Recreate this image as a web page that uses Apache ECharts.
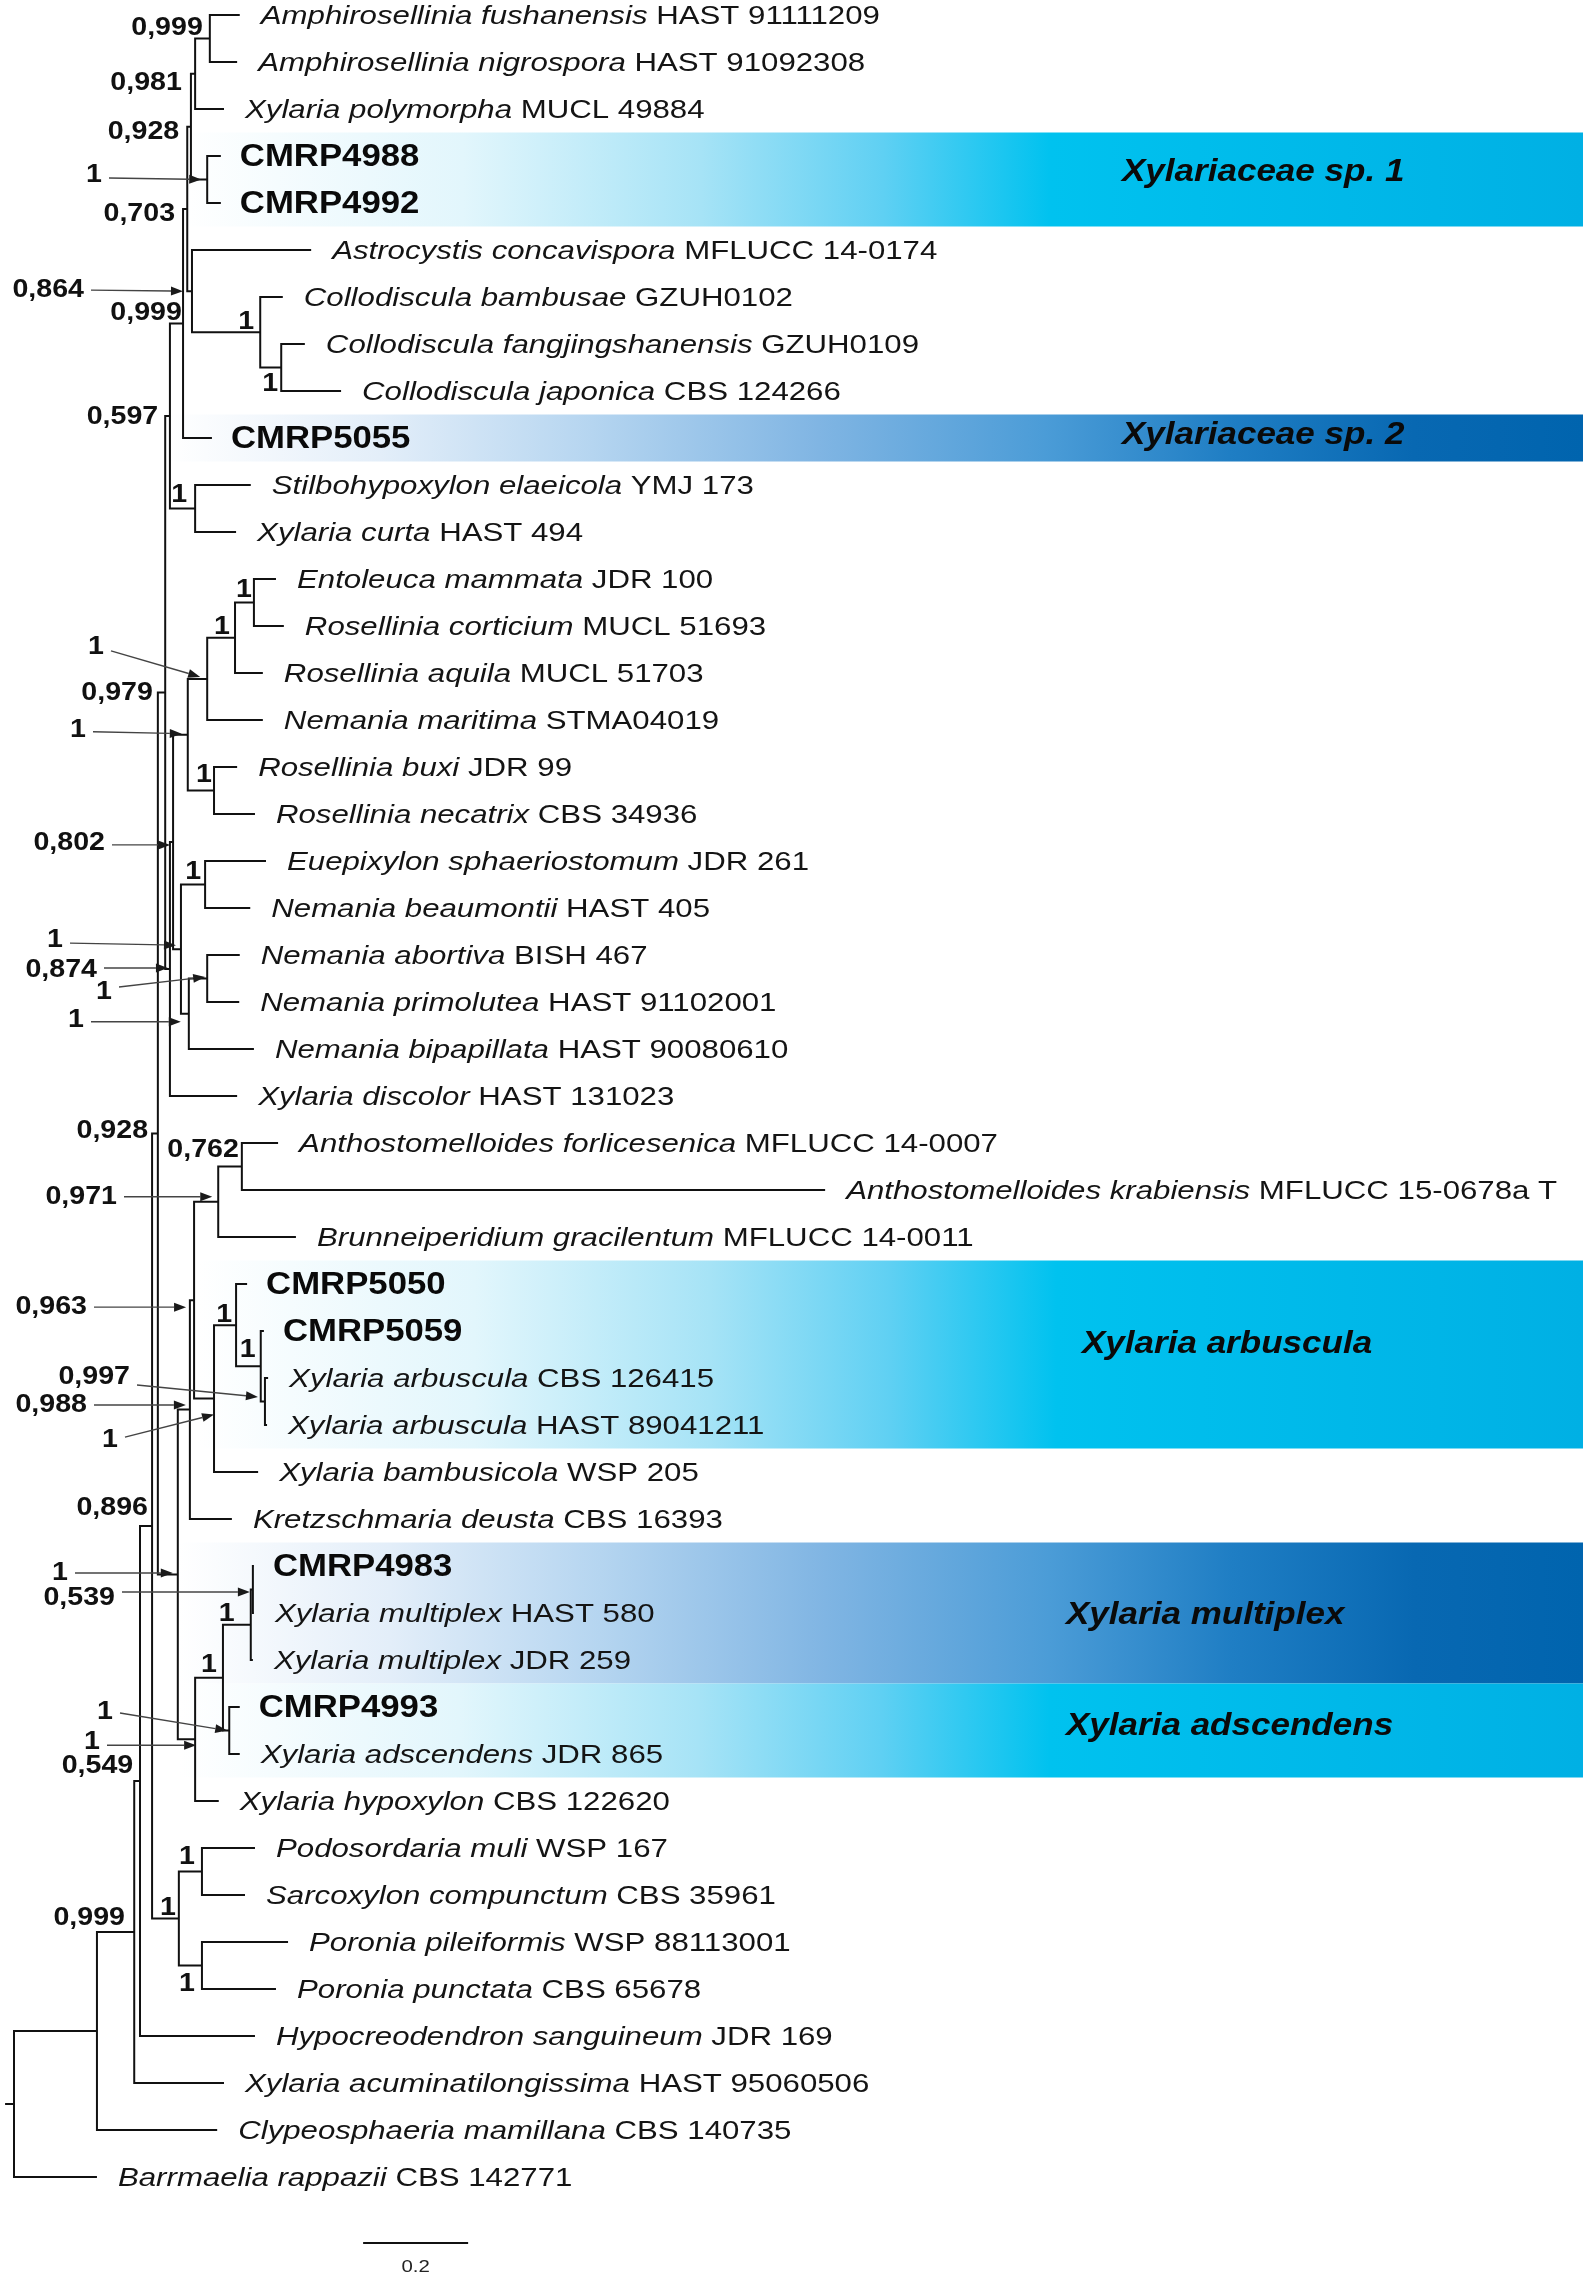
<!DOCTYPE html>
<html>
<head>
<meta charset="utf-8">
<title>Xylariaceae phylogeny</title>
<script src="https://cdn.jsdelivr.net/npm/echarts@6/dist/echarts.min.js"></script>
<style>
  html, body { margin: 0; padding: 0; background: #fff; }
  #chart { width: 1595px; height: 2281px; }
</style>
</head>
<body>
<div id="chart"></div>
<script>
// taxa, top to bottom (italic name part, strain part); empty name = our isolate, bold
const taxaName = [
  'Amphirosellinia fushanensis', 'Amphirosellinia nigrospora', 'Xylaria polymorpha', '', '',
  'Astrocystis concavispora', 'Collodiscula bambusae', 'Collodiscula fangjingshanensis', 'Collodiscula japonica', '',
  'Stilbohypoxylon elaeicola', 'Xylaria curta', 'Entoleuca mammata', 'Rosellinia corticium', 'Rosellinia aquila',
  'Nemania maritima', 'Rosellinia buxi', 'Rosellinia necatrix', 'Euepixylon sphaeriostomum', 'Nemania beaumontii',
  'Nemania abortiva', 'Nemania primolutea', 'Nemania bipapillata', 'Xylaria discolor', 'Anthostomelloides forlicesenica',
  'Anthostomelloides krabiensis', 'Brunneiperidium gracilentum', '', '', 'Xylaria arbuscula',
  'Xylaria arbuscula', 'Xylaria bambusicola', 'Kretzschmaria deusta', '', 'Xylaria multiplex',
  'Xylaria multiplex', '', 'Xylaria adscendens', 'Xylaria hypoxylon', 'Podosordaria muli',
  'Sarcoxylon compunctum', 'Poronia pileiformis', 'Poronia punctata', 'Hypocreodendron sanguineum', 'Xylaria acuminatilongissima',
  'Clypeosphaeria mamillana', 'Barrmaelia rappazii'
];
const taxaStrain = [
  'HAST 91111209', 'HAST 91092308', 'MUCL 49884', 'CMRP4988', 'CMRP4992',
  'MFLUCC 14-0174', 'GZUH0102', 'GZUH0109', 'CBS 124266', 'CMRP5055',
  'YMJ 173', 'HAST 494', 'JDR 100', 'MUCL 51693', 'MUCL 51703',
  'STMA04019', 'JDR 99', 'CBS 34936', 'JDR 261', 'HAST 405',
  'BISH 467', 'HAST 91102001', 'HAST 90080610', 'HAST 131023', 'MFLUCC 14-0007',
  'MFLUCC 15-0678a T', 'MFLUCC 14-0011', 'CMRP5050', 'CMRP5059', 'CBS 126415',
  'HAST 89041211', 'WSP 205', 'CBS 16393', 'CMRP4983', 'HAST 580',
  'JDR 259', 'CMRP4993', 'JDR 865', 'CBS 122620', 'WSP 167',
  'CBS 35961', 'WSP 88113001', 'CBS 65678', 'JDR 169', 'HAST 95060506',
  'CBS 140735', 'CBS 142771'
];
// distance from root of each tip (substitutions/site)
const tipDepth = [
  0.430, 0.425, 0.400, 0.394, 0.394,
  0.566, 0.512, 0.554, 0.623, 0.377,
  0.451, 0.423, 0.499, 0.514, 0.474,
  0.474, 0.425, 0.459, 0.480, 0.450,
  0.430, 0.429, 0.457, 0.425, 0.503,
  1.545, 0.537, 0.444, 0.476, 0.484,
  0.482, 0.465, 0.415, 0.457, 0.457,
  0.455, 0.430, 0.430, 0.390, 0.459,
  0.440, 0.522, 0.499, 0.459, 0.400,
  0.387, 0.158
];
// internal nodes, children first ('L' = tip, 'N' = internal node)
const nodeKids = [
  ['L0', 'L1'], ['N0', 'L2'], ['L3', 'L4'], ['N1', 'N2'], ['L7', 'L8'],
  ['L6', 'N4'], ['L5', 'N5'], ['N3', 'N6'], ['N7', 'L9'], ['L10', 'L11'],
  ['N8', 'N9'], ['L12', 'L13'], ['N11', 'L14'], ['N12', 'L15'], ['L16', 'L17'],
  ['N13', 'N14'], ['L18', 'L19'], ['L20', 'L21'], ['N17', 'L22'], ['N16', 'N18'],
  ['N15', 'N19'], ['N20', 'L23'], ['N10', 'N21'], ['L24', 'L25'], ['N23', 'L26'],
  ['L29', 'L30'], ['L28', 'N25'], ['L27', 'N26'], ['N27', 'L31'], ['N24', 'N28'],
  ['N29', 'L32'], ['L33', 'L34'], ['N31', 'L35'], ['L36', 'L37'], ['N32', 'N33'],
  ['N34', 'L38'], ['N30', 'N35'], ['N22', 'N36'], ['L39', 'L40'], ['L41', 'L42'],
  ['N38', 'N39'], ['N37', 'N40'], ['N41', 'L43'], ['N42', 'L44'], ['N43', 'L45'],
  ['N44', 'L46']
];
const nodeDepth = [
  0.373, 0.345, 0.368, 0.337, 0.509,
  0.469, 0.339, 0.330, 0.322, 0.345,
  0.297, 0.457, 0.421, 0.368, 0.381,
  0.331, 0.364, 0.368, 0.333, 0.318,
  0.303, 0.297, 0.288, 0.434, 0.389,
  0.478, 0.470, 0.423, 0.381, 0.343,
  0.335, 0.455, 0.451, 0.410, 0.398,
  0.345, 0.312, 0.274, 0.358, 0.358,
  0.314, 0.263, 0.240, 0.229, 0.158,
  0
];
// posterior probabilities
const nodeSupport = [
  '0,999', '', '1', '0,981', '1',
  '1', '0,864', '0,928', '0,703', '1',
  '0,999', '1', '1', '1', '1',
  '1', '1', '1', '1', '1',
  '0,802', '0,874', '0,597', '0,762', '0,971',
  '0,997', '1', '1', '1', '0,963',
  '0,988', '0,539', '1', '1', '1',
  '1', '1', '0,979', '1', '1',
  '1', '0,928', '0,896', '0,549', '0,999',
  ''
];
// highlighted clades: label, first tip, last tip, palette
const clades = [
  ['Xylariaceae sp. 1', 3, 4, 'cyan'],
  ['Xylariaceae sp. 2', 9, 9, 'blue'],
  ['Xylaria arbuscula', 27, 30, 'cyan'],
  ['Xylaria multiplex', 33, 35, 'blue'],
  ['Xylaria adscendens', 36, 37, 'cyan']
];
const scaleBarLength = 0.2;
const rootStem = 0.017;

// ---- layout (pixels) ----
const FONT = '"Liberation Sans", Arial, Helvetica, sans-serif';
const INK = '#111';
const bandLeft = [183, 168, 197, 179, 179];
const bandRight = 1583;
const cladeLabelX = [1122, 1122, 1082, 1066, 1066];
const cladeLabelDy = [-7, -3, -10, 2, -4];
const palettes = {
  cyan: [[0, '#ffffff'], [0.2, '#e2f6fc'], [0.37, '#a6e3f6'], [0.5, '#5fd0f3'], [0.62, '#00c2ef'], [1, '#00b0e4']],
  blue: [[0, '#ffffff'], [0.15, '#e3eef9'], [0.3, '#b5d5f0'], [0.46, '#80b5e3'], [0.62, '#4b9cd7'], [0.75, '#1f7ec4'], [0.88, '#0868b2'], [1, '#0064ae']]
};
// support label placement per node:
// ['t', dx, dy] beside top of the node's vertical, ['n', dx, dy] beside the node,
// ['a', textRight, textDy, tailDy, tipDx, tipDy] label in the margin with an arrow
const supportPlace = {
  0: ['t', -7, 13], 2: ['a', 102, -4.5, -1.5, -6, 0], 3: ['t', -9, 9], 4: ['n', -3, 16],
  5: ['n', -6, -10], 6: ['a', 84, -1, -1, -9, 0], 7: ['t', -8, 5], 8: ['t', -8, 5],
  9: ['t', -8, 10], 10: ['t', 12, -11], 11: ['t', -2, 11], 12: ['n', -5, -11],
  13: ['a', 104, -32, -28, -7, -2], 14: ['t', -2, 8], 15: ['a', 86, -5, -3, -6, -1],
  16: ['t', -4, 11], 17: ['a', 112, 13, 8.5, -2, -1.5], 18: ['a', 84, 6, 8, -8, 8],
  19: ['a', 63, -9, -6, -5, -4], 20: ['a', 105, 1, 3, -3, 3], 21: ['a', 97, 1, -1, -2, -1],
  22: ['t', -7, 1], 23: ['t', -3, 7], 24: ['a', 117, -5, -5, -6, -5],
  25: ['a', 130, -24.5, -16.5, -7, -4.5], 26: ['n', -5, -16], 27: ['n', -4, -10],
  28: ['a', 118, 41, 38.5, 0, 16], 29: ['a', 87, 7, 7, -8, 7], 30: ['a', 87, -4.6, -4.6, -4, -4.6],
  31: ['a', 115, 8.5, 2.5, -3, 2.5], 32: ['n', -16, -11], 33: ['a', 113, -18.5, -17.5, -2, 0],
  34: ['n', -6, -13], 35: ['a', 100, 3, 6, 1, 6], 36: ['a', 68, -1.5, -1.5, -5, -1.5],
  37: ['t', -5, 0], 38: ['t', -7, 9], 39: ['n', -7, 18], 40: ['n', -3, -11],
  41: ['t', -4, -3], 42: ['t', 8, -18], 43: ['t', -1, -15], 44: ['t', 28, -14]
};

// row of each internal node = midpoint of its two children
const nodeRow = [];
const isTip = r => r[0] === 'L';
const refIdx = r => +r.slice(1);
const refDepth = r => isTip(r) ? tipDepth[refIdx(r)] : nodeDepth[refIdx(r)];
const refRow = r => isTip(r) ? refIdx(r) : nodeRow[refIdx(r)];
nodeKids.forEach((kids, k) => { nodeRow[k] = (refRow(kids[0]) + refRow(kids[1])) / 2; });
const ROOT = nodeKids.length - 1;

function stretchedText(x, y, text, opt) {
  return {
    type: 'text', x: x, y: y, scaleX: opt.scaleX,
    style: {
      text: text, fill: opt.fill || INK, fontFamily: FONT, fontSize: opt.size,
      fontWeight: opt.weight || 'normal', fontStyle: opt.style || 'normal',
      align: opt.align || 'left', verticalAlign: 'middle', rich: opt.rich
    }
  };
}

const chart = echarts.init(document.getElementById('chart'));

const option = {
  backgroundColor: '#fff',
  animation: false,
  grid: { left: 3.5, top: 15, width: 1585.5, height: 2162 },
  xAxis: { type: 'value', min: -0.02, max: 3.0, show: false },
  yAxis: { type: 'value', min: 0, max: taxaStrain.length - 1, inverse: true, show: false },
  series: [
    {
      // clade bands with their labels
      type: 'custom', coordinateSystem: 'cartesian2d', clip: false, silent: true, z: 1,
      data: clades.map(c => [0, c[1], c[2]]),
      encode: { x: 0, y: 1 },
      renderItem: (params, api) => {
        const k = params.dataIndex;
        const c = clades[k];
        const top = api.coord([0, c[1] - 0.5])[1];
        const bottom = api.coord([0, c[2] + 0.5])[1];
        const stops = palettes[c[3]].map(s => ({ offset: s[0], color: s[1] }));
        return {
          type: 'group',
          children: [
            {
              type: 'rect',
              shape: { x: bandLeft[k], y: top, width: bandRight - bandLeft[k], height: bottom - top },
              style: { fill: new echarts.graphic.LinearGradient(0, 0, 1, 0, stops) }
            },
            stretchedText(cladeLabelX[k], (top + bottom) / 2 + cladeLabelDy[k], c[0],
              { size: 31, weight: 'bold', style: 'italic', scaleX: 1.13, fill: '#0a0a0a' })
          ]
        };
      }
    },
    {
      // branches
      type: 'custom', coordinateSystem: 'cartesian2d', clip: false, silent: true, z: 2,
      data: nodeKids.map((_, k) => [nodeDepth[k], nodeRow[k]]),
      encode: { x: 0, y: 1 },
      renderItem: (params, api) => {
        const k = params.dataIndex;
        const a = nodeKids[k][0], b = nodeKids[k][1];
        const n = api.coord([nodeDepth[k], nodeRow[k]]);
        const pa = api.coord([refDepth(a), refRow(a)]);
        const pb = api.coord([refDepth(b), refRow(b)]);
        const lineStyle = { stroke: INK, lineWidth: 2, fill: 'none', lineJoin: 'miter' };
        const children = [{
          type: 'polyline',
          shape: { points: [pa, [n[0], pa[1]], [n[0], pb[1]], pb] },
          style: lineStyle
        }];
        if (k === ROOT) {
          const s = api.coord([-rootStem, nodeRow[k]]);
          children.push({ type: 'line', shape: { x1: s[0], y1: s[1], x2: n[0], y2: n[1] }, style: lineStyle });
        }
        return { type: 'group', children: children };
      }
    },
    {
      // tip labels
      type: 'custom', coordinateSystem: 'cartesian2d', clip: false, silent: true, z: 3,
      data: tipDepth.map((d, i) => [d, i]),
      encode: { x: 0, y: 1 },
      renderItem: (params, api) => {
        const i = params.dataIndex;
        const p = api.coord([tipDepth[i], i]);
        if (!taxaName[i]) {
          return stretchedText(p[0] + 19, p[1] + 1, taxaStrain[i], { size: 31, weight: 'bold', scaleX: 1.12, fill: '#0a0a0a' });
        }
        return stretchedText(p[0] + 21, p[1] + 2, '{it|' + taxaName[i] + '} ' + taxaStrain[i], {
          size: 26, scaleX: 1.2, fill: '#141414',
          rich: { it: { fontStyle: 'italic', fontFamily: FONT, fontSize: 26, fill: '#141414' } }
        });
      }
    },
    {
      // posterior probabilities
      type: 'custom', coordinateSystem: 'cartesian2d', clip: false, silent: true, z: 4,
      data: nodeKids.map((_, k) => [nodeDepth[k], nodeRow[k]]),
      encode: { x: 0, y: 1 },
      renderItem: (params, api) => {
        const k = params.dataIndex;
        const place = supportPlace[k];
        if (!nodeSupport[k] || !place) return null;
        const n = api.coord([nodeDepth[k], nodeRow[k]]);
        const lab = { size: 26, weight: 'bold', scaleX: 1.1, align: 'right', fill: '#111' };
        if (place[0] === 't') {
          const topRow = refRow(nodeKids[k][0]);
          const t = api.coord([nodeDepth[k], topRow]);
          return stretchedText(n[0] + place[1], t[1] + place[2], nodeSupport[k], lab);
        }
        if (place[0] === 'n') {
          return stretchedText(n[0] + place[1], n[1] + place[2], nodeSupport[k], lab);
        }
        // margin label with arrow
        const tx = place[1], ty = n[1] + place[2];
        const x1 = tx + 7, y1 = n[1] + place[3];
        const x2 = n[0] + place[4], y2 = n[1] + place[5];
        const ang = Math.atan2(y2 - y1, x2 - x1);
        const hl = 12, hw = 4.5;
        const bx = x2 - hl * Math.cos(ang), by = y2 - hl * Math.sin(ang);
        const head = [
          [x2, y2],
          [bx + hw * Math.sin(ang), by - hw * Math.cos(ang)],
          [bx - hw * Math.sin(ang), by + hw * Math.cos(ang)]
        ];
        return {
          type: 'group',
          children: [
            stretchedText(tx, ty, nodeSupport[k], lab),
            { type: 'line', shape: { x1: x1, y1: y1, x2: bx, y2: by }, style: { stroke: '#444', lineWidth: 1.4 } },
            { type: 'polygon', shape: { points: head }, style: { fill: '#1a1a1a' } }
          ]
        };
      }
    },
    {
      // scale bar
      type: 'custom', coordinateSystem: 'cartesian2d', clip: false, silent: true, z: 4,
      data: [[0.665, taxaStrain.length - 1]],
      encode: { x: 0, y: 1 },
      renderItem: (params, api) => {
        const d = api.value(0), row = api.value(1);
        const a = api.coord([d, row]);
        const b = api.coord([d + scaleBarLength, row]);
        const y = a[1] + 66;
        return {
          type: 'group',
          children: [
            { type: 'line', shape: { x1: a[0], y1: y, x2: b[0], y2: y }, style: { stroke: INK, lineWidth: 2 } },
            stretchedText((a[0] + b[0]) / 2, y + 24, String(scaleBarLength), { size: 17, scaleX: 1.2, align: 'center', fill: '#222' })
          ]
        };
      }
    }
  ]
};

chart.setOption(option);
</script>
</body>
</html>
